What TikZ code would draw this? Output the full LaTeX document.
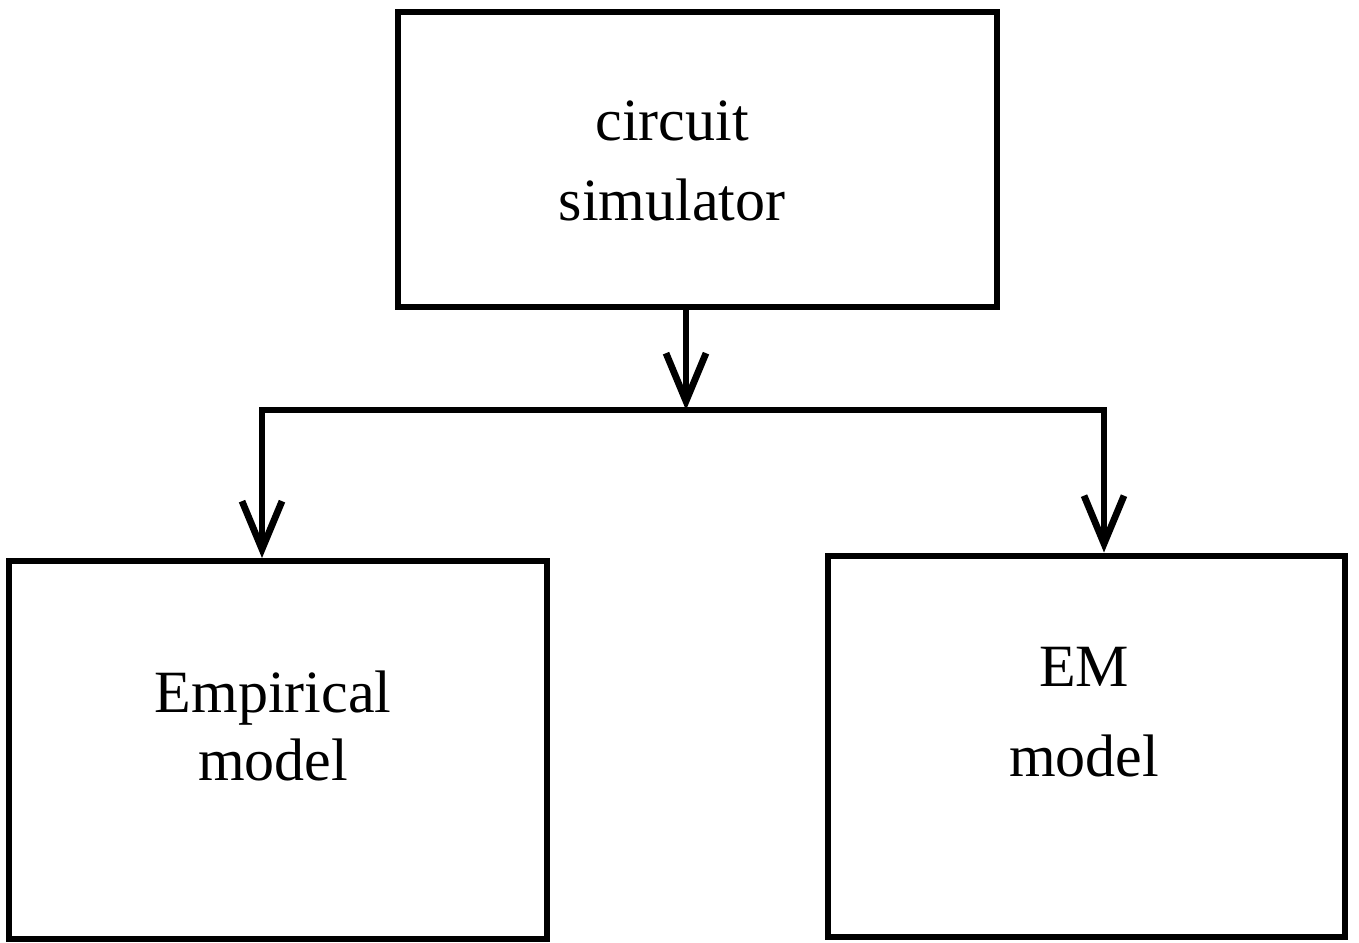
\documentclass[tikz,border=0pt]{standalone}
\usepackage{fontspec}
\setmainfont{Liberation Serif}
\usetikzlibrary{arrows.meta}
\begin{document}
\begin{tikzpicture}[x=0.5pt,y=-0.5pt,
    box/.style={draw,line width=3pt,inner sep=0pt},
    link/.style={line width=3pt},
    arr/.style={link,-{Straight Barb[length=24pt,width=20pt,line width=3.4pt]}},
    lbl/.style={align=center,anchor=base,inner sep=0pt}]
    \useasboundingbox (0,0) rectangle (1359,942);
    % Circuit simulator (top)
    \node[box,minimum width=599*0.5pt,minimum height=295*0.5pt] (sim) at (697.5,159.5) {};
    \node[lbl,font=\fontsize{30}{40}\selectfont] (simtxt) at (672,220) {circuit\\simulator};
    % Empirical model (left)
    \node[box,minimum width=537.5*0.5pt,minimum height=378*0.5pt] (emp) at (278,750) {};
    \node[lbl,font=\fontsize{30}{34}\selectfont] (emptxt) at (273,780) {Empirical\\model};
    % EM model (right)
    \node[box,minimum width=517*0.5pt,minimum height=381*0.5pt] (em) at (1086,746) {};
    \node[lbl,font=\fontsize{30}{45}\selectfont] (emtxt) at (1084,776) {EM\\model};
    % Branching connectors
    \coordinate (split) at (686,410);
    \coordinate (lj) at (262,410);
    \coordinate (rj) at (1104,410);
    \draw[arr] (sim.south -| split) -- (split);
    \draw[link,line cap=rect] (lj) -- (rj);
    \draw[arr] (lj) -- (lj |- emp.north);
    \draw[arr] (rj) -- (rj |- em.north);
\end{tikzpicture}
\end{document}
